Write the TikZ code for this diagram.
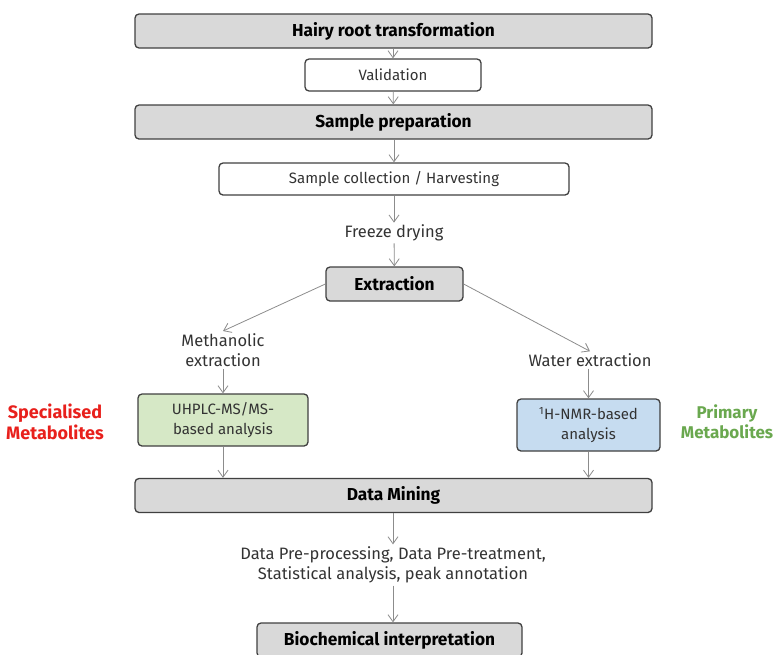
\documentclass[tikz,border=0pt]{standalone}
\usepackage{fontspec}
\setmainfont{Fira Sans}
\usetikzlibrary{arrows.meta}

\definecolor{boxgray}{HTML}{D9D9D9}
\definecolor{edgegray}{HTML}{404040}
\definecolor{arrowgray}{HTML}{8C8C8C}
\definecolor{textgray}{HTML}{333333}
\definecolor{msgreen}{HTML}{D6E8C6}
\definecolor{nmrblue}{HTML}{C6DCF0}
\definecolor{specred}{HTML}{E8201C}
\definecolor{primgreen}{HTML}{6AA84F}

\begin{document}
\begin{tikzpicture}[x=1pt,y=-1pt,
    stage/.style={draw=edgegray, line width=1.3pt, rounded corners=4pt, fill=boxgray, minimum height=34pt, inner sep=2pt, text=black, font=\bfseries\fontsize{17.3}{19}\selectfont},
    substep/.style={draw=edgegray, line width=1.3pt, rounded corners=4pt, fill=white, minimum height=32pt, inner sep=2pt, align=center, text=textgray, font=\fontsize{15}{20}\selectfont},
    plain/.style={align=center, text=textgray, inner sep=2pt, font=\fontsize{16.5}{20.5}\selectfont},
    tag/.style={align=center, inner sep=0pt, font=\bfseries\fontsize{17}{20}\selectfont},
    flow/.style={draw=arrowgray, line width=0.8pt, -{Straight Barb[length=7pt,width=10pt]}}]

    \useasboundingbox (0,0) rectangle (776,654);

    \node[stage, minimum width=517pt] (hairy) at (393.5,31) {Hairy root transformation};
    \node[substep, minimum width=176pt] (valid) at (393,75) {Validation};
    \node[stage, minimum width=517pt] (prep) at (393.5,122) {Sample preparation};
    \node[substep, minimum width=350pt] (collect) at (394,179) {Sample collection / Harvesting};
    \node[plain] (freeze) at (394,233) {Freeze drying};
    \node[stage, minimum width=137pt] (extract) at (394.5,284) {Extraction};

    \node[plain] (methanol) at (223,350) {Methanolic\\extraction};
    \node[plain] (water) at (590,360) {Water extraction};
    \node[substep, fill=msgreen, minimum width=170pt, minimum height=52pt] (uhplc) at (223,420) {UHPLC-MS/MS-\\based analysis};
    \node[substep, fill=nmrblue, minimum width=143pt, minimum height=52pt] (nmr) at (588.5,425) {\textsuperscript{1}H-NMR-based\\analysis};
    \node[tag, text=specred, font=\bfseries\fontsize{18}{21}\selectfont] (spec) at (55,422) {Specialised\\Metabolites};
    \node[tag, text=primgreen] (prim) at (727,422) {Primary\\Metabolites};

    \node[stage, minimum width=517pt] (mining) at (393.5,495.5) {Data Mining};
    \node[plain] (pretreat) at (393,565) {Data Pre-processing, Data Pre-treatment,\\Statistical analysis, peak annotation};
    \node[stage, minimum width=265pt] (biochem) at (389.5,640) {Biochemical interpretation};

    \draw[flow] (hairy.south -| valid.north) -- (valid.north);
    \draw[flow] (valid) -- (prep);
    \draw[flow] (prep.south -| collect.north) -- (collect.north);
    \draw[flow] (collect.south -| freeze.north) -- (freeze.north);
    \draw[flow] (freeze) -- (extract);
    \draw[flow] (extract.west) -- (methanol.north);
    \draw[flow] (extract.east) -- (water.north);
    \draw[flow] (methanol) -- (uhplc);
    \draw[flow] (nmr.north |- water.south) -- (nmr.north);
    \draw[flow] (uhplc.south) -- (uhplc.south |- mining.north);
    \draw[flow] (nmr.south) -- (nmr.south |- mining.north);
    \draw[flow] (mining.south -| pretreat.north) -- (pretreat.north);
    \draw[flow] (pretreat.south) -- (pretreat.south |- biochem.north);

\end{tikzpicture}
\end{document}
